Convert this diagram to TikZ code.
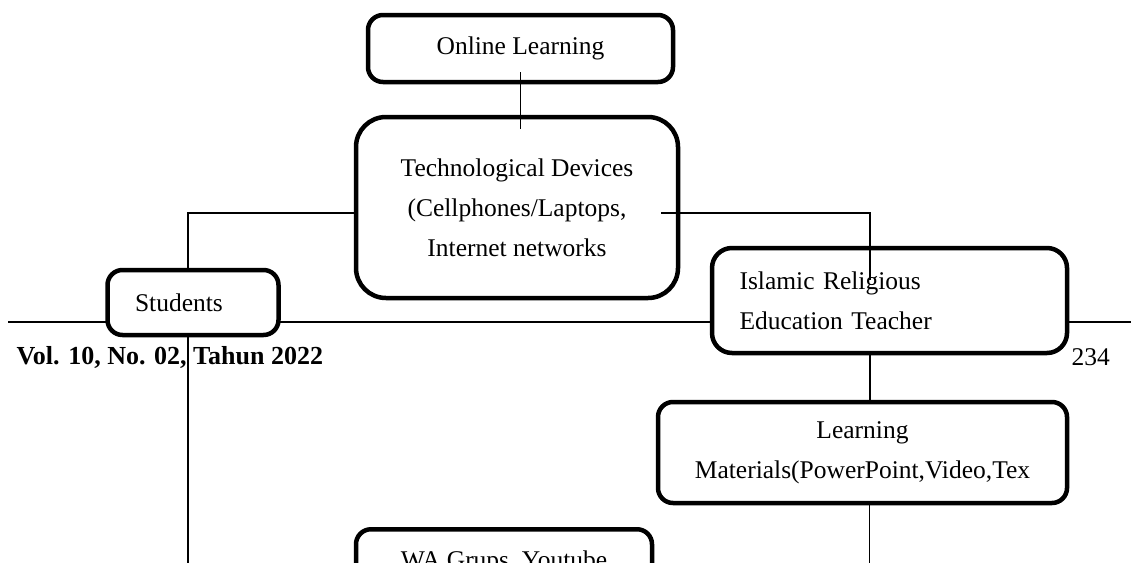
\documentclass[tikz,border=0pt]{standalone}
\usepackage{fontspec}
\setmainfont{Liberation Serif}
\usetikzlibrary{calc,positioning}

\begin{document}
\begin{tikzpicture}[x=1pt,y=-1pt,
	font=\fontsize{25.5}{40}\selectfont,
	box/.style={draw,rounded corners=15pt,line width=4.5pt,fill=white,inner sep=0pt},
	conn/.style={line width=1.3pt},]
	\useasboundingbox (0,0) rectangle (1131,562);
	\clip (0,0) rectangle (1131,562);
	\draw[conn] (8,322) -- (1131,322);
	\node [box,minimum width=305pt,minimum height=67pt] (ol) at (520.5,48.5) {Online Learning};
	\node [box,rounded corners=30pt,minimum width=322pt,minimum height=181pt,align=center] (td) at (517,207.5)
		{Technological Devices\\(Cellphones/Laptops,\\Internet networks};
	\node [box,minimum height=65pt,text width=116pt,inner xsep=27.5pt,align=left] (st) at (193,302.5) {Students};
	\node [box,rounded corners=20pt,minimum height=105pt,text width=300pt,inner xsep=27.5pt,align=left] (pai) at (889.5,300.5)
		{Islamic Religious\\Education Teacher};
	\node [box,minimum width=409pt,minimum height=101pt,align=center] (lm) at (862.5,452.5)
		{Learning\\Materials(PowerPoint,Video,Tex};
	\node [box,anchor=north,minimum width=296pt,inner ysep=22pt,align=center] (wa) at (504,527)
		{WA Grups, Youtube\\[60pt]};
	\node [anchor=west,font=\fontsize{26}{40}\selectfont\bfseries] (vol) at (13,357) {Vol. 10, No. 02, Tahun 2022};
	\node [anchor=west] (pg) at (1068,357) {234};
	\draw[conn] ([yshift=12pt]ol.south) -- ++(0,57);
	\draw[conn] ([yshift=-5.5pt]td.west) -| ([xshift=-5pt]st.north);
	\draw[conn] ([xshift=-5pt]st.south) -- ++(0,300);
	\draw[conn] ([xshift=-19pt,yshift=-5.5pt]td.east) -| ([xshift=-19.5pt,yshift=-34pt]pai.north);
	\draw[conn] ([xshift=-19.5pt]pai.south) -- ([xshift=-19.5pt]pai.south |- lm.north);
	\draw[conn] ([xshift=7pt]lm.south) -- ++(0,100);
\end{tikzpicture}
\end{document}
